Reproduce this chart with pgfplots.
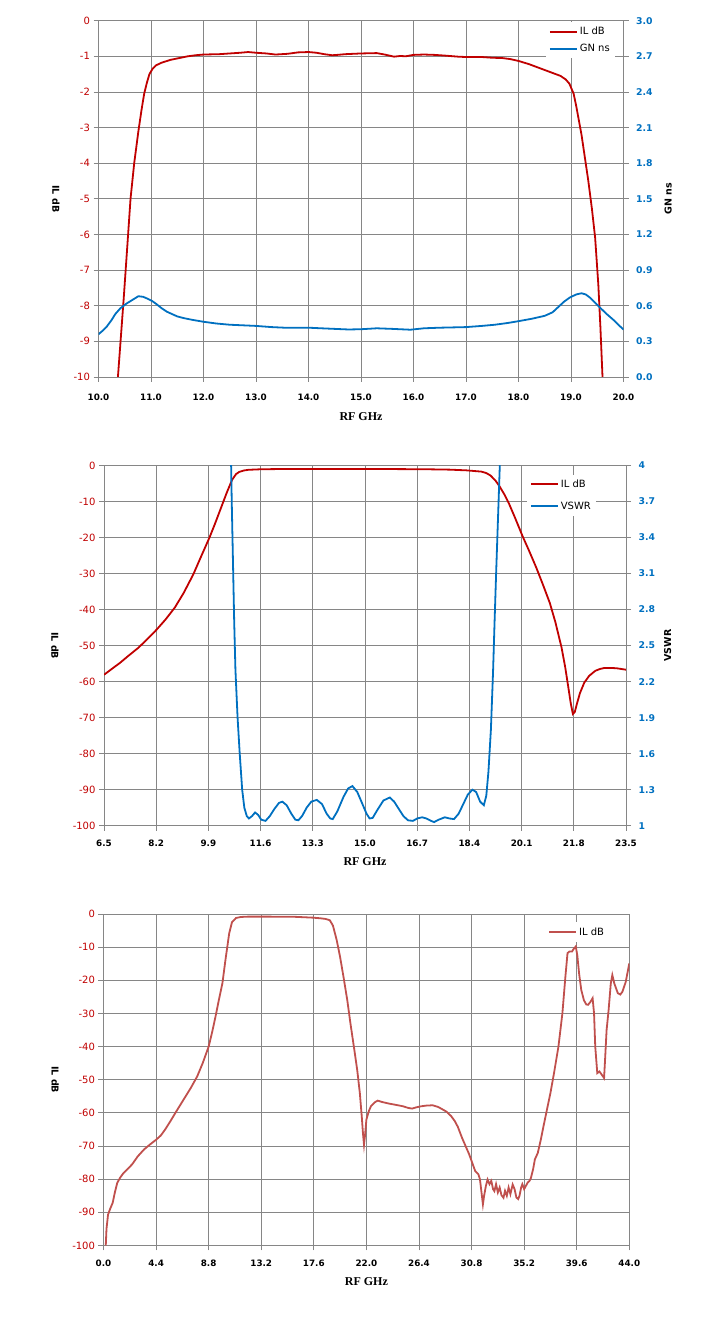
\documentclass[border=0pt]{standalone}
\usepackage{pgfplots}
\pgfplotsset{compat=1.18}
\usepackage{fontspec}
\setmainfont{DejaVu Sans}
\newfontfamily\labserif{Liberation Serif}
\definecolor{ilred}{HTML}{C00000}
\definecolor{ilred3}{HTML}{C0504D}
\definecolor{gnblue}{HTML}{0070C0}
\definecolor{gridgray}{HTML}{868686}
\pgfplotsset{
  base/.style={
    scale only axis, enlargelimits=false,
    axis line style={gridgray, line width=0.8pt},
    major tick style={gridgray, line width=0.8pt},
    major tick length=5pt, tick align=outside,
    /pgf/number format/assume math mode=true,
    tick label style={font=\fontsize{10}{12}\selectfont},
    label style={font=\bfseries\fontsize{9.5}{11}\selectfont},
  },
  leftaxis/.style={
    base, grid=major, major grid style={gridgray, line width=0.8pt},
    xtick pos=lower, ytick pos=left,
    xticklabel style={font=\bfseries\fontsize{8.8}{10}\selectfont, text=black, yshift=-5.5pt,
      text height=6.5pt, text depth=0pt},
    yticklabel style={text=ilred},
    xlabel={\labserif\bfseries\fontsize{12}{14}\selectfont RF GHz},
    ylabel={IL dB},
  },
  rightaxis/.style={
    base, axis x line=none, axis y line*=right, ytick pos=right,
    yticklabel style={text=gnblue, font=\bfseries\fontsize{9.3}{11}\selectfont, xshift=4pt},
  },
  leg/.style={draw=none, fill=white, font=\fontsize{10}{12}\selectfont,
    legend cell align=left, inner xsep=3pt, inner ysep=3pt},
  redleg/.style={legend image code/.code={\draw[ilred, line width=1.8pt] (0pt,0pt) -- (27pt,0pt);}},
  red3leg/.style={legend image code/.code={\draw[ilred3, line width=1.8pt] (0pt,0pt) -- (27pt,0pt);}},
  blueleg/.style={legend image code/.code={\draw[gnblue, line width=1.8pt] (0pt,0pt) -- (27pt,0pt);}},
}
\begin{document}
\begin{tikzpicture}
\path[use as bounding box] (0,0) rectangle (718pt,1332pt);
% ---------------- Chart 1 ----------------
\begin{axis}[leftaxis, at={(98.5pt,955pt)}, anchor=south west,
  width=525pt, height=356.3pt,
  xmin=10, xmax=20, ymin=-10, ymax=0,
  xtick={10,11,12,13,14,15,16,17,18,19,20},
  xticklabels={10.0,11.0,12.0,13.0,14.0,15.0,16.0,17.0,18.0,19.0,20.0},
  xticklabel style={yshift=-2.5pt},
  ytick={-10,-9,-8,-7,-6,-5,-4,-3,-2,-1,0},
  yticklabels={-10,-9,-8,-7,-6,-5,-4,-3,-2,-1,0},
  xlabel style={at={(axis description cs:0.5,-0.111)}, anchor=center},
  ylabel style={at={(axis description cs:-0.081,0.5)}, anchor=center, rotate=180},
]
\addplot[ilred, line width=1.8pt] coordinates {
(10.37,-10) (10.42,-9.0) (10.48,-7.8) (10.55,-6.3) (10.61,-5.0) (10.68,-4.0)
(10.76,-3.1) (10.82,-2.5) (10.87,-2.05) (10.92,-1.75) (10.97,-1.5) (11.03,-1.35)
(11.1,-1.25) (11.2,-1.18) (11.37,-1.1) (11.5,-1.06) (11.7,-1.0) (11.85,-0.97)
(12.0,-0.95) (12.3,-0.94) (12.5,-0.92) (12.7,-0.9) (12.85,-0.88) (13.0,-0.9)
(13.2,-0.92) (13.37,-0.95) (13.6,-0.93) (13.8,-0.89) (14.0,-0.88) (14.15,-0.9)
(14.3,-0.94) (14.45,-0.97) (14.55,-0.96) (14.7,-0.94) (15.0,-0.92) (15.3,-0.91)
(15.45,-0.95) (15.63,-1.01) (15.75,-0.99) (15.85,-1.0) (16.0,-0.96) (16.2,-0.95)
(16.4,-0.96) (16.6,-0.98) (16.85,-1.01) (17.0,-1.02) (17.3,-1.02) (17.5,-1.04)
(17.7,-1.05) (17.85,-1.08) (18.0,-1.13) (18.2,-1.22) (18.4,-1.33) (18.6,-1.44)
(18.8,-1.55) (18.9,-1.65) (18.97,-1.77) (19.05,-2.05) (19.1,-2.4) (19.15,-2.8)
(19.2,-3.2) (19.27,-3.9) (19.33,-4.5) (19.4,-5.3) (19.46,-6.1) (19.52,-7.4)
(19.56,-8.6) (19.6,-10)
};
\end{axis}
\begin{axis}[rightaxis, at={(98.5pt,955pt)}, anchor=south west,
  width=525pt, height=356.3pt,
  xmin=10, xmax=20, ymin=0, ymax=3,
  ytick={0,0.3,0.6,0.9,1.2,1.5,1.8,2.1,2.4,2.7,3.0},
  yticklabels={0.0,0.3,0.6,0.9,1.2,1.5,1.8,2.1,2.4,2.7,3.0},
  ylabel={GN ns},
  ylabel style={at={(axis description cs:1.085,0.5)}, anchor=center},
  legend style={leg, at={(axis description cs:0.852,0.996)}, anchor=north west, row sep=4pt},
]
\addlegendimage{redleg}
\addlegendentry{IL dB}
\addplot[gnblue, line width=1.8pt, forget plot] coordinates {
(10.0,0.36) (10.08,0.39) (10.15,0.42) (10.25,0.48) (10.32,0.53) (10.42,0.58)
(10.54,0.62) (10.65,0.65) (10.76,0.68) (10.85,0.675) (10.93,0.66) (11.02,0.64)
(11.1,0.615) (11.2,0.58) (11.3,0.55) (11.4,0.53) (11.5,0.51) (11.63,0.495)
(11.8,0.48) (12.0,0.465) (12.25,0.45) (12.5,0.44) (12.75,0.435) (13.0,0.43)
(13.3,0.42) (13.54,0.415) (14.0,0.415) (14.24,0.41) (14.5,0.405) (14.76,0.4)
(15.0,0.402) (15.3,0.41) (15.6,0.405) (15.94,0.398) (16.2,0.41) (16.5,0.415)
(16.8,0.418) (17.0,0.42) (17.3,0.43) (17.55,0.44) (17.8,0.455) (18.0,0.47)
(18.25,0.49) (18.5,0.515) (18.65,0.545) (18.76,0.59) (18.87,0.635) (18.98,0.67)
(19.1,0.695) (19.2,0.705) (19.28,0.695) (19.37,0.665) (19.45,0.63) (19.55,0.585)
(19.68,0.53) (19.81,0.48) (19.9,0.44) (20.0,0.4)
};
\addlegendimage{blueleg}
\addlegendentry{GN ns}
\end{axis}
% ---------------- Chart 2 ----------------
\begin{axis}[leftaxis, at={(104pt,506.3pt)}, anchor=south west,
  width=522pt, height=360.2pt,
  xmin=6.5, xmax=23.5, ymin=-100, ymax=0,
  xtick={6.5,8.2,9.9,11.6,13.3,15.0,16.7,18.4,20.1,21.8,23.5},
  xticklabels={6.5,8.2,9.9,11.6,13.3,15.0,16.7,18.4,20.1,21.8,23.5},
  ytick={-100,-90,-80,-70,-60,-50,-40,-30,-20,-10,0},
  yticklabels={-100,-90,-80,-70,-60,-50,-40,-30,-20,-10,0},
  xlabel style={at={(axis description cs:0.5,-0.101)}, anchor=center},
  ylabel style={at={(axis description cs:-0.094,0.5)}, anchor=center, rotate=180},
]
\addplot[ilred, line width=1.8pt] coordinates {
(6.5,-58.1) (6.75,-56.5) (7.02,-54.8) (7.3,-52.8) (7.62,-50.6) (7.9,-48.3)
(8.21,-45.6) (8.5,-42.8) (8.81,-39.4) (9.1,-35.3) (9.41,-30.2) (9.65,-25.5)
(9.93,-20.1) (10.1,-16.5) (10.3,-12.0) (10.5,-7.5) (10.67,-4.0) (10.8,-2.4)
(10.9,-1.8) (11.05,-1.4) (11.2,-1.2) (11.6,-1.05) (12.09,-1.0) (13.0,-0.95)
(14.0,-0.95) (15.07,-0.95) (16.0,-1.0) (17.0,-1.05) (17.75,-1.15) (18.3,-1.35)
(18.79,-1.7) (18.95,-2.1) (19.09,-2.8) (19.25,-4.2) (19.39,-5.9) (19.55,-8.2)
(19.68,-10.4) (19.9,-14.8) (20.13,-19.6) (20.35,-23.8) (20.58,-28.4) (20.8,-33.2)
(21.02,-38.2) (21.2,-43.5) (21.4,-50.5) (21.52,-56) (21.62,-61.5) (21.7,-66)
(21.77,-69.0) (21.83,-68.5) (21.9,-66.2) (22.0,-63.2) (22.14,-60.3) (22.3,-58.4)
(22.5,-57.0) (22.65,-56.5) (22.8,-56.2) (23.0,-56.2) (23.2,-56.3) (23.35,-56.5)
(23.5,-56.7)
};
\end{axis}
\begin{axis}[rightaxis, at={(104pt,506.3pt)}, anchor=south west,
  width=522pt, height=360.2pt,
  xmin=6.5, xmax=23.5, ymin=1, ymax=4,
  ytick={1,1.3,1.6,1.9,2.2,2.5,2.8,3.1,3.4,3.7,4},
  yticklabels={1,1.3,1.6,1.9,2.2,2.5,2.8,3.1,3.4,3.7,4},
  ylabel={VSWR},
  ylabel style={at={(axis description cs:1.080,0.5)}, anchor=center},
  legend style={leg, at={(axis description cs:0.81,0.975)}, anchor=north west, row sep=9pt},
]
\addlegendimage{redleg}
\addlegendentry{IL dB}
\addplot[gnblue, line width=1.8pt, forget plot] coordinates {
(10.62,4.3) (10.66,3.7) (10.7,3.2) (10.74,2.7) (10.78,2.3) (10.85,1.9)
(10.92,1.6) (11.0,1.3) (11.07,1.15) (11.15,1.08) (11.22,1.06) (11.32,1.08)
(11.42,1.11) (11.52,1.09) (11.62,1.05) (11.76,1.04) (11.9,1.08) (12.05,1.14)
(12.2,1.19) (12.31,1.2) (12.45,1.17) (12.6,1.1) (12.73,1.05) (12.83,1.045)
(12.95,1.08) (13.1,1.15) (13.25,1.2) (13.43,1.215) (13.6,1.18) (13.75,1.1)
(13.87,1.06) (13.95,1.055) (14.1,1.12) (14.3,1.24) (14.45,1.31) (14.59,1.33)
(14.75,1.28) (14.9,1.19) (15.05,1.1) (15.15,1.06) (15.25,1.065) (15.4,1.13)
(15.6,1.21) (15.81,1.235) (15.95,1.2) (16.1,1.14) (16.25,1.08) (16.4,1.045)
(16.56,1.04) (16.7,1.06) (16.86,1.07) (17.0,1.06) (17.15,1.04) (17.25,1.03)
(17.4,1.05) (17.6,1.07) (17.75,1.06) (17.9,1.055) (18.05,1.1) (18.2,1.18)
(18.35,1.26) (18.5,1.3) (18.62,1.28) (18.75,1.2) (18.87,1.17) (18.95,1.25)
(19.02,1.45) (19.1,1.8) (19.17,2.28) (19.22,2.7) (19.27,3.1) (19.33,3.55)
(19.39,4.0) (19.43,4.3)
};
\addlegendimage{blueleg}
\addlegendentry{VSWR}
\end{axis}
% ---------------- Chart 3 ----------------
\begin{axis}[leftaxis, at={(103.5pt,86.5pt)}, anchor=south west,
  width=525.8pt, height=331.5pt,
  xmin=0, xmax=44, ymin=-100, ymax=0,
  xtick={0,4.4,8.8,13.2,17.6,22,26.4,30.8,35.2,39.6,44},
  xticklabels={0.0,4.4,8.8,13.2,17.6,22.0,26.4,30.8,35.2,39.6,44.0},
  ytick={-100,-90,-80,-70,-60,-50,-40,-30,-20,-10,0},
  yticklabels={-100,-90,-80,-70,-60,-50,-40,-30,-20,-10,0},
  xlabel style={at={(axis description cs:0.5,-0.110)}, anchor=center},
  ylabel style={at={(axis description cs:-0.092,0.5)}, anchor=center, rotate=180},
  legend style={leg, at={(axis description cs:0.84,0.975)}, anchor=north west},
]
\addplot[ilred3, line width=1.8pt, forget plot] coordinates {
(0.19,-100) (0.25,-95) (0.38,-90.7) (0.55,-89) (0.77,-87.1) (0.95,-84)
(1.15,-81.1) (1.4,-79.5) (1.64,-78.3) (2.0,-77) (2.4,-75.5) (2.87,-73.1)
(3.4,-71) (3.9,-69.5) (4.4,-68.1) (4.8,-66.8) (5.16,-65) (5.6,-62.5)
(6.1,-59.5) (6.7,-56) (7.3,-52.5) (7.84,-49) (8.3,-45) (8.8,-40)
(9.1,-35.5) (9.37,-31) (9.65,-26) (9.95,-20.9) (10.2,-14) (10.52,-5.8)
(10.75,-2.5) (11.09,-1.2) (11.5,-0.9) (12.05,-0.8) (14,-0.8) (16,-0.85)
(17.5,-1.1) (18.17,-1.3) (18.6,-1.5) (18.94,-1.9) (19.2,-3.5) (19.51,-7.8)
(19.8,-13) (20.08,-18.9) (20.4,-26) (20.66,-32.9) (20.95,-40) (21.23,-47)
(21.45,-54) (21.61,-61) (21.72,-66.5) (21.8,-69.6) (21.88,-67) (22.0,-62)
(22.2,-59.5) (22.38,-58) (22.7,-56.8) (22.95,-56.3) (23.3,-56.7) (23.9,-57.2)
(24.5,-57.6) (25.06,-58) (25.5,-58.5) (25.82,-58.7) (26.2,-58.3) (26.59,-58.0)
(27.0,-57.8) (27.54,-57.7) (28.0,-58.2) (28.3,-58.8) (28.69,-59.6) (29.1,-61)
(29.4,-62.5) (29.65,-64.2) (30.0,-67.5) (30.3,-70) (30.6,-72.5) (30.9,-75.5)
(31.1,-77.5) (31.37,-78.5) (31.5,-80) (31.6,-83) (31.75,-87.6) (31.85,-85)
(32.0,-82) (32.14,-80.1) (32.3,-81.5) (32.45,-80.5) (32.6,-83) (32.71,-83.6)
(32.85,-81.5) (33.0,-84) (33.15,-82.5) (33.3,-84.8) (33.47,-85.6) (33.6,-83.5)
(33.75,-85) (33.9,-82.5) (34.05,-84.5) (34.24,-81.6) (34.4,-83) (34.55,-85.5)
(34.7,-86) (34.81,-85) (34.95,-82.5) (35.05,-81.5) (35.2,-83) (35.35,-82)
(35.5,-81) (35.65,-80.5) (35.77,-79.6) (35.95,-77) (36.1,-74) (36.34,-72.1)
(36.6,-68) (36.85,-63.5) (37.11,-59) (37.4,-54) (37.7,-48) (38.07,-40)
(38.4,-30) (38.65,-19) (38.83,-11.8) (39.0,-11.3) (39.21,-11.3) (39.35,-10.5)
(39.52,-9.8) (39.65,-12.5) (39.8,-18) (39.98,-22.9) (40.2,-26) (40.4,-27.3)
(40.55,-27.4) (40.75,-26.5) (40.93,-25.4) (41.05,-30) (41.15,-40) (41.32,-48)
(41.5,-47.5) (41.7,-48.5) (41.89,-49.5) (42.0,-42) (42.1,-35) (42.27,-28.9)
(42.45,-21) (42.58,-18.4) (42.75,-21) (43.04,-23.9) (43.25,-24.3) (43.43,-23.4)
(43.7,-20.5) (44.0,-14.9)
};
\addlegendimage{red3leg}
\addlegendentry{IL dB}
\end{axis}
\end{tikzpicture}
\end{document}
